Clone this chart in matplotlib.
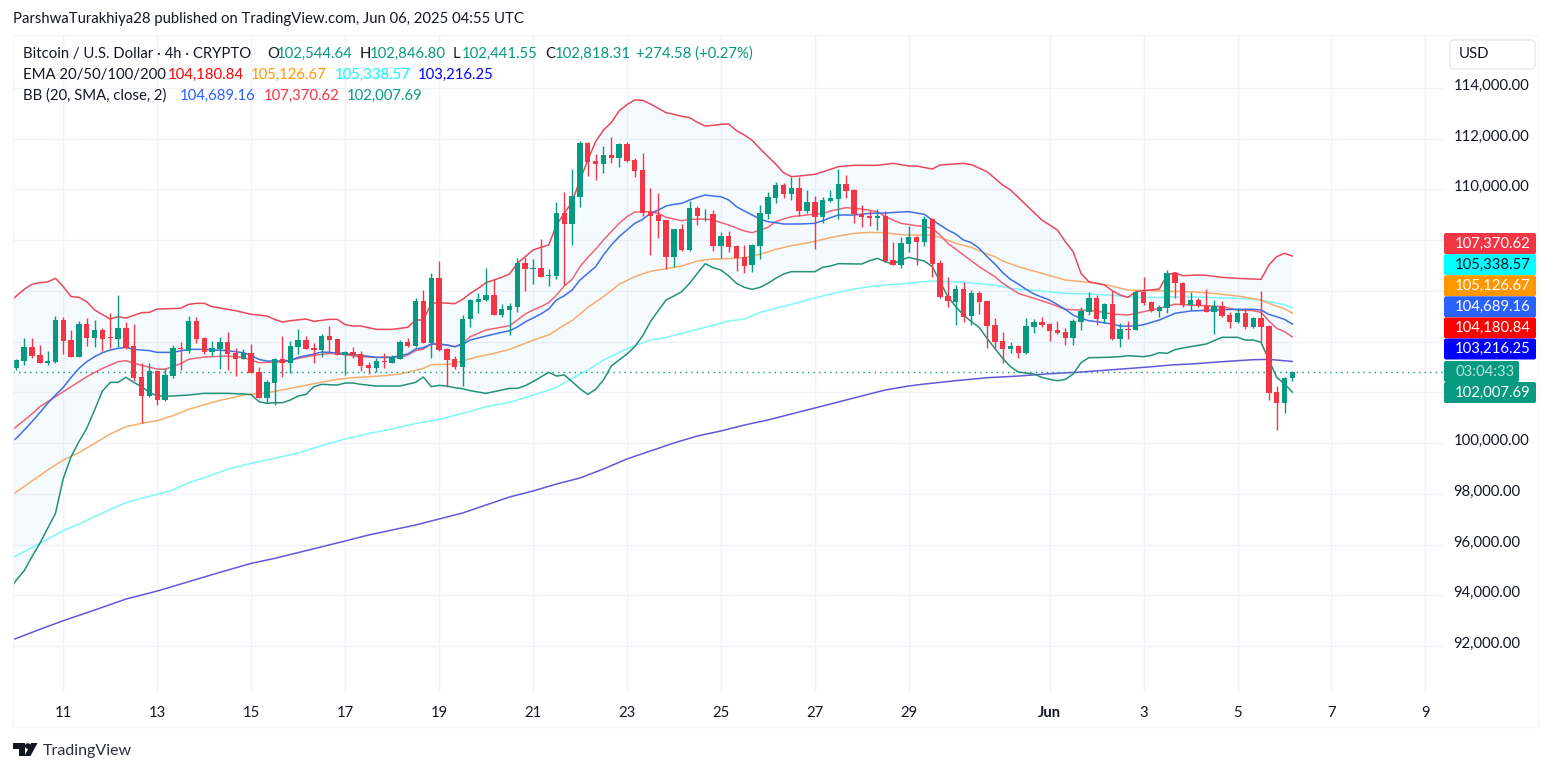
import numpy as np
import matplotlib
matplotlib.use("Agg")
import matplotlib.pyplot as plt
from matplotlib.patches import FancyBboxPatch, Polygon, Circle, Rectangle

plt.rcParams["font.family"] = ["Lato", "DejaVu Sans"]

GREEN = "#089981"
RED = "#F23645"
TEXT = "#131722"
GRID = "#f0f3fa"
FS = 10.7

# 4h candles, first one is May 10 00:00 (candle 7 = May 11 00:00)
opens = [102957, 103246, 103771, 103469, 103154, 103193, 104849, 104060, 103403, 104691,
         104152, 104455, 104179, 104113, 104533, 103824, 102602, 101853, 102825, 101695,
         102641, 103745, 103640, 104809, 104126, 103600, 103706, 103982, 103561, 103325,
         103548, 102799, 101787, 102378, 103311, 103167, 103797, 104060, 103745, 103679,
         104218, 104086, 103469, 103587, 103495, 103075, 102957, 103245, 103167, 103324,
         103981, 103824, 105598, 103955, 106504, 103705, 103311, 103009, 104875, 105558,
         105637, 105834, 105046, 105243, 105374, 107081, 106871, 106897, 106595, 106582,
         109052, 108632, 109709, 111811, 111115, 111010, 111352, 111246, 111785, 111154,
         110760, 109118, 108986, 108776, 107344, 108421, 107607, 109262, 109013, 109026,
         107764, 108158, 107764, 107331, 107015, 107765, 109026, 109670, 110182, 109815,
         110051, 109144, 109499, 108921, 109539, 109631, 110209, 109972, 109013, 108960,
         108882, 108960, 107200, 107029, 107857, 108133, 107922, 108842, 107095, 105794,
         105571, 106070, 105006, 105899, 105597, 104638, 104007, 103705, 103836, 103547,
         104572, 104769, 104690, 104441, 104362, 104138, 104782, 105163, 105715, 104874,
         105479, 104099, 104506, 104467, 105952, 105558, 105190, 105321, 106688, 106307,
         105440, 105637, 105414, 105177, 105401, 105046, 104770, 105112, 104573, 104915,
         104612, 101997, 101590, 102544.64]
closes = [103272, 103771, 103430, 103167, 103220, 104849, 104034, 103403, 104691, 104152,
          104455, 104113, 104152, 104533, 103745, 102562, 101866, 102838, 101695, 102681,
          103745, 103706, 104809, 104100, 103600, 103732, 103982, 103508, 103325, 103561,
          102773, 101787, 102405, 103311, 103167, 103824, 104060, 103718, 103679, 104218,
          104060, 103482, 103587, 103456, 103035, 102957, 103232, 103193, 103377, 103981,
          103824, 105598, 103955, 106504, 103666, 103272, 103009, 104875, 105637, 105663,
          105834, 105059, 105269, 105400, 107109, 106871, 106897, 106555, 106621, 109052,
          108632, 109735, 111811, 111089, 111010, 111352, 111246, 111785, 111115, 110734,
          109052, 108960, 108763, 107344, 108421, 107607, 109262, 108947, 109039, 107764,
          108158, 107738, 107278, 106976, 107804, 109052, 109696, 110169, 109815, 110051,
          109144, 109499, 108921, 109578, 109644, 110209, 109946, 109013, 108921, 108882,
          108960, 107173, 107029, 107883, 108106, 107922, 108829, 107055, 105754, 105597,
          106070, 104979, 105899, 105558, 104611, 103981, 103705, 103810, 103534, 104611,
          104769, 104638, 104427, 104322, 104138, 104795, 105216, 105715, 104874, 105479,
          104099, 104493, 104467, 105952, 105505, 105203, 105361, 106688, 106294, 105440,
          105637, 105401, 105177, 105401, 105006, 104770, 105112, 104560, 104915, 104586,
          101984, 101590, 102562, 102818.31]
highs = [103325, 104126, 104126, 103863, 103627, 105006, 104954, 104455, 104796, 104928,
         104849, 104533, 105112, 105834, 104770, 104691, 103140, 103140, 102878, 102943,
         103863, 103968, 105006, 104980, 104166, 104021, 104166, 104376, 103732, 103692,
         103890, 102983, 102484, 103337, 104218, 104008, 104494, 104218, 103929, 104297,
         104612, 104113, 103613, 103771, 103613, 103206, 103351, 103534, 103456, 104060,
         104139, 105716, 106031, 106688, 107174, 103732, 103429, 105033, 105663, 105900,
         106885, 106452, 105479, 105505, 107279, 107344, 107239, 108040, 106845, 109486,
         109893, 110787, 111917, 111851, 111391, 111706, 112048, 111811, 111851, 111220,
         111417, 110037, 109840, 108789, 108448, 108632, 109525, 109341, 109236, 109184,
         108316, 108342, 107790, 107804, 107830, 109381, 109893, 110274, 110261, 110472,
         110498, 109972, 109736, 109683, 109972, 110800, 110564, 109998, 109381, 109184,
         109210, 109131, 107909, 108106, 108553, 108159, 108960, 108868, 107213, 106556,
         106241, 106345, 106031, 106004, 105597, 104914, 104375, 103981, 103863, 104914,
         104874, 104953, 104743, 104809, 104519, 104874, 105347, 105939, 105820, 105531,
         106004, 104743, 104795, 106004, 106556, 105597, 105440, 106819, 106753, 106334,
         105939, 105703, 106071, 105637, 105598, 105177, 105309, 105309, 104980, 105992,
         104639, 102247, 102589, 102846.80]
lows = [102878, 103088, 103338, 103140, 103088, 103140, 103508, 103377, 103377, 103824,
        103798, 103640, 103745, 103771, 103692, 102431, 100802, 101827, 101485, 101669,
        102562, 102878, 103561, 103955, 103508, 103430, 102917, 102878, 102654, 103298,
        102746, 101761, 101564, 101485, 102615, 102772, 103508, 103692, 103167, 103403,
        103600, 103456, 102694, 103351, 102851, 102720, 102812, 102970, 103140, 103298,
        103797, 103797, 103929, 103351, 103640, 102221, 102904, 102247, 104586, 105138,
        105611, 105033, 104954, 104257, 105177, 106004, 106266, 106529, 106187, 106450,
        106227, 107817, 109315, 110537, 110366, 110655, 111023, 110865, 111089, 110497,
        108947, 107423, 108093, 106871, 106950, 107580, 107580, 108592, 108763, 107580,
        107278, 107541, 106792, 106713, 106752, 107265, 108816, 109473, 109670, 109578,
        108947, 109052, 107633, 108658, 109512, 108816, 109670, 108684, 108527, 108553,
        108395, 107147, 107003, 106897, 107528, 107029, 107765, 106556, 105728, 105373,
        104651, 104782, 104651, 105085, 103744, 103692, 103166, 103560, 103350, 103521,
        104349, 104559, 104033, 104296, 103876, 103876, 104454, 105032, 104664, 104717,
        104060, 103770, 104086, 104441, 105452, 105177, 104979, 105137, 105703, 105374,
        105243, 105374, 105151, 104297, 104954, 104547, 104744, 104507, 104547, 103995,
        101695, 100513, 101170, 102441.55]

# indicators, read at the candle numbers in the *_idx lists
upper_idx = [0, 1, 2, 3, 4, 5, 6, 7, 8, 9, 10, 11, 13, 14, 15, 17, 18, 19, 22, 23, 24, 25, 26, 29, 31, 32,
             33, 34, 35, 36, 38, 39, 41, 42, 43, 44, 45, 47, 49, 51, 52, 53, 54, 55, 57, 58, 59, 60, 61, 62,
             63, 64, 65, 66, 67, 68, 69, 70, 71, 72, 73, 74, 75, 76, 77, 78, 79, 80, 81, 82, 83, 84, 85, 86,
             87, 88, 89, 90, 91, 92, 93, 94, 95, 96, 97, 98, 99, 100, 101, 103, 105, 106, 108, 111, 113, 115,
             116, 118, 119, 122, 123, 125, 126, 127, 128, 130, 132, 134, 135, 136, 137, 138, 140, 141, 142,
             143, 144, 145, 147, 148, 149, 150, 152, 153, 155, 157, 160, 161, 162, 163, 164]
upper_val = [105500, 105795, 106058, 106255, 106320, 106347, 106491, 106163, 105769, 105742, 105572, 105243,
             104888, 104980, 104928, 105138, 105151, 105282, 105309, 105466, 105506, 105506, 105374, 105217,
             105072, 105046, 105006, 104875, 104770, 104822, 104888, 104796, 104875, 104875, 104665, 104612,
             104612, 104481, 104481, 104560, 104849, 104849, 105506, 105532, 105492, 105663, 105900, 106097,
             106320, 106425, 106531, 106662, 107081, 107344, 107607, 107712, 107804, 108592, 109052, 109512,
             110366, 111154, 111877, 112337, 112626, 113086, 113336, 113520, 113507, 113362, 113191, 113020,
             112955, 112876, 112823, 112639, 112495, 112521, 112561, 112574, 112311, 112140, 111930, 111600,
             111300, 110997, 110655, 110498, 110524, 110590, 110787, 110892, 110945, 110945, 111023, 110918,
             110918, 110800, 110958, 111023, 110971, 110695, 110432, 110169, 109973, 109381, 108790, 108396,
             107936, 107542, 106688, 106359, 106228, 106004, 105833, 105741, 105965, 106004, 106070, 106622,
             106714, 106596, 106623, 106610, 106531, 106491, 106452, 107016, 107345, 107476, 107370.62]

basis_idx = [0, 1, 2, 3, 4, 5, 6, 7, 8, 9, 10, 11, 12, 13, 14, 15, 16, 18, 19, 21, 23, 25, 28, 30, 31, 32, 33,
             34, 36, 37, 39, 40, 41, 43, 45, 47, 49, 51, 52, 53, 54, 55, 56, 57, 58, 59, 61, 63, 64, 65, 66, 67,
             68, 69, 70, 71, 72, 73, 74, 75, 76, 77, 78, 79, 80, 81, 82, 83, 84, 85, 86, 87, 88, 89, 90, 91, 92,
             93, 94, 95, 96, 97, 98, 99, 101, 103, 104, 105, 106, 108, 110, 112, 114, 115, 117, 118, 119, 120,
             121, 122, 123, 124, 125, 126, 127, 128, 129, 130, 131, 133, 135, 136, 137, 138, 139, 141, 142, 144,
             145, 147, 148, 149, 151, 153, 155, 157, 159, 160, 161, 162, 163, 164]
basis_val = [100000, 100184, 100513, 100841, 101196, 101564, 101892, 102195, 102589, 102944, 103206, 103403,
             103561, 103666, 103732, 103771, 103692, 103640, 103574, 103574, 103692, 103692, 103640, 103561,
             103450, 103298, 103232, 103232, 103245, 103377, 103508, 103587, 103574, 103521, 103456, 103377,
             103377, 103508, 103705, 103758, 103903, 103903, 103863, 103797, 103889, 104060, 104218, 104362,
             104428, 104573, 104771, 104928, 105086, 105283, 105636, 105806, 106030, 106424, 106687, 106950,
             107410, 107804, 108132, 108395, 108658, 108815, 109052, 109183, 109341, 109407, 109446, 109578,
             109683, 109775, 109735, 109709, 109578, 109315, 109144, 108987, 108829, 108724, 108684, 108632,
             108632, 108658, 108763, 108882, 108987, 108987, 109052, 109065, 109105, 109118, 109013, 108790,
             108592, 108395, 108238, 108001, 107896, 107673, 107345, 107056, 106714, 106451, 106267, 106057,
             105873, 105636, 105268, 105045, 104914, 104822, 104782, 104690, 104611, 104611, 104664, 104848,
             104979, 105112, 105204, 105230, 105256, 105269, 105269, 105243, 105072, 104980, 104875, 104689.16]

lower_idx = [0, 1, 2, 3, 4, 5, 6, 7, 8, 9, 10, 11, 12, 13, 14, 15, 16, 17, 18, 19, 21, 23, 25, 28, 30, 31, 32, 33,
             34, 35, 36, 37, 38, 39, 40, 42, 43, 44, 45, 47, 50, 52, 53, 54, 55, 56, 57, 58, 59, 61, 63, 64, 65,
             66, 67, 68, 69, 70, 71, 72, 73, 74, 75, 76, 77, 78, 79, 80, 81, 82, 83, 84, 85, 86, 87, 88, 89, 90,
             91, 92, 93, 94, 95, 96, 97, 98, 99, 100, 103, 104, 105, 106, 109, 110, 111, 112, 113, 114, 115, 116,
             117, 118, 119, 120, 121, 122, 123, 124, 125, 126, 127, 128, 129, 130, 131, 132, 133, 134, 135, 136,
             137, 138, 140, 142, 143, 145, 146, 147, 148, 149, 150, 151, 153, 154, 155, 157, 158, 159, 160, 161,
             162, 163, 164]
lower_val = [94142, 94601, 94969, 95521, 96047, 96638, 97229, 98609, 99463, 100054, 100580, 101303, 102050,
             102392, 102392, 102589, 102392, 102221, 101997, 101853, 101853, 101892, 101958, 101958, 101932,
             101905, 101630, 101564, 101590, 101590, 101695, 101853, 101918, 102221, 102313, 102286, 102365,
             102365, 102313, 102247, 102247, 102391, 102602, 102221, 102273, 102247, 102181, 102142, 102063,
             101958, 102089, 102155, 102155, 102260, 102418, 102602, 102786, 102641, 102681, 102418, 102142,
             101918, 102115, 102483, 103035, 103272, 103508, 103797, 104218, 104783, 105217, 105637, 105795,
             105965, 106294, 106688, 107069, 106912, 106820, 106583, 106293, 106135, 106056, 106135, 106293,
             106490, 106661, 106753, 106753, 106924, 106976, 107068, 107055, 107186, 107278, 107147, 107055,
             107213, 107318, 107239, 107173, 106950, 106359, 105767, 105373, 105045, 104782, 104559, 104125,
             103731, 103337, 103008, 102798, 102759, 102719, 102588, 102509, 102456, 102509, 102719, 103166,
             103363, 103376, 103403, 103442, 103403, 103455, 103560, 103534, 103680, 103745, 103798, 103903,
             104034, 104166, 104166, 104060, 104060, 103968, 103272, 102589, 102326, 102007.69]

ema20_idx = [0, 1, 3, 4, 5, 7, 8, 10, 12, 14, 15, 17, 19, 20, 22, 23, 25, 28, 30, 31, 32, 33, 35, 37, 39, 41, 43,
             45, 47, 50, 51, 52, 53, 54, 56, 57, 58, 59, 61, 64, 65, 66, 67, 68, 69, 70, 71, 72, 73, 74, 75, 76,
             77, 78, 79, 80, 82, 83, 84, 86, 87, 89, 90, 92, 94, 95, 96, 97, 98, 99, 100, 102, 104, 105, 106, 107,
             109, 111, 112, 114, 116, 117, 118, 119, 120, 122, 124, 125, 126, 127, 128, 129, 131, 133, 135, 137,
             139, 141, 143, 145, 147, 148, 149, 151, 153, 155, 157, 159, 160, 161, 162, 163, 164]
ema20_val = [100383, 100646, 101145, 101432, 101630, 102024, 102221, 102615, 102943, 103206, 103246, 103062,
             102917, 102904, 103127, 103298, 103390, 103430, 103377, 103272, 103167, 103180, 103193, 103337,
             103456, 103535, 103482, 103403, 103377, 103377, 103469, 103640, 103705, 103903, 103863, 103797,
             103929, 104192, 104454, 104625, 104849, 105085, 105243, 105374, 105532, 105834, 106189, 106452,
             106951, 107319, 107640, 108001, 108329, 108658, 108921, 109105, 109118, 109052, 108894, 108763,
             108815, 108829, 108789, 108592, 108356, 108290, 108395, 108500, 108724, 108829, 108921, 108987,
             109052, 109144, 109210, 109276, 109223, 109118, 108921, 108658, 108566, 108527, 108461, 108198,
             107870, 107410, 106950, 106753, 106556, 106294, 106096, 105899, 105702, 105505, 105268, 105242,
             105203, 105084, 105045, 105177, 105308, 105400, 105470, 105440, 105414, 105374, 105243, 105217,
             105151, 104809, 104520, 104389, 104180.84]

ema50_idx = [0, 1, 3, 5, 7, 9, 11, 13, 15, 17, 19, 21, 23, 25, 27, 28, 30, 31, 32, 34, 36, 38, 40, 42, 44, 46, 48,
             50, 52, 53, 54, 56, 57, 58, 60, 62, 64, 66, 68, 69, 71, 72, 74, 76, 78, 80, 82, 84, 86, 88, 90, 92,
             94, 96, 98, 100, 102, 104, 106, 108, 110, 112, 114, 116, 118, 119, 121, 123, 125, 126, 127, 129,
             132, 135, 138, 140, 143, 146, 148, 149, 151, 153, 155, 157, 160, 161, 163, 164]
ema50_val = [97860, 98070, 98504, 98938, 99332, 99621, 99989, 100357, 100646, 100777, 100882, 101079, 101329,
             101513, 101684, 101748, 101892, 101932, 101932, 102037, 102155, 102273, 102404, 102510, 102575,
             102615, 102654, 102720, 102864, 102943, 103088, 103101, 103140, 103246, 103403, 103535, 103692,
             103929, 104165, 104257, 104651, 104822, 105348, 105768, 106255, 106557, 106767, 106872, 106977,
             107174, 107253, 107266, 107305, 107436, 107633, 107778, 107883, 108027, 108159, 108264, 108303,
             108290, 108211, 108198, 108198, 108106, 107870, 107712, 107449, 107344, 107174, 106950, 106688,
             106425, 106333, 106254, 106031, 106004, 105991, 105975, 105966, 105926, 105861, 105795, 105637,
             105506, 105282, 105126.67]

ema100_idx = [0, 1, 4, 7, 9, 11, 13, 15, 17, 19, 21, 23, 25, 28, 31, 34, 37, 40, 43, 46, 49, 52, 55, 58, 61, 64,
              66, 68, 70, 72, 74, 76, 78, 80, 82, 84, 86, 88, 90, 92, 94, 96, 98, 100, 102, 104, 106, 108, 110,
              112, 114, 116, 118, 120, 122, 124, 126, 128, 130, 132, 135, 138, 141, 144, 147, 149, 152, 155,
              158, 160, 161, 163, 164]
ema100_val = [95390, 95561, 96047, 96546, 96809, 97098, 97387, 97650, 97821, 97978, 98149, 98438, 98635, 98964,
              99200, 99397, 99608, 99900, 100160, 100375, 100554, 100770, 100933, 101169, 101432, 101603, 101787,
              101984, 102194, 102549, 102878, 103272, 103574, 103837, 104060, 104165, 104323, 104481, 104638,
              104809, 104887, 105150, 105307, 105465, 105636, 105794, 105938, 106070, 106162, 106227, 106267,
              106332, 106385, 106365, 106333, 106280, 106228, 106096, 106044, 105991, 105899, 105873, 105820,
              105741, 105741, 105760, 105755, 105716, 105690, 105637, 105572, 105453, 105338.57]

ema200_idx = [0, 1, 4, 7, 11, 15, 19, 23, 27, 31, 34, 43, 46, 49, 52, 55, 58, 61, 64, 67, 70, 73, 76, 79, 82, 85,
              88, 91, 94, 97, 100, 103, 106, 109, 112, 115, 117, 121, 125, 129, 133, 137, 141, 145, 149, 151, 155,
              159, 161, 164]
ema200_val = [92184, 92302, 92657, 92998, 93419, 93852, 94168, 94536, 94904, 95258, 95455, 96140, 96376, 96573,
              96770, 97007, 97243, 97558, 97874, 98110, 98386, 98623, 98977, 99372, 99687, 100002, 100278, 100475,
              100710, 100909, 101145, 101381, 101618, 101855, 102091, 102248, 102325, 102457, 102575, 102640,
              102733, 102798, 102890, 102982, 103087, 103114, 103206, 103285, 103298, 103216.25]

last_price = 102818.31

price_ticks = list(range(92000, 116000, 2000))
hidden_ticks = [102000, 104000, 106000, 108000]  # covered by the value tags
day_ticks = [0, 2, 4, 6, 8, 10, 12, 14, 16, 18, 21, 23, 25, 27, 29]
day_labels = ["11", "13", "15", "17", "19", "21", "23", "25", "27", "29", "Jun", "3", "5", "7", "9"]

header = "ParshwaTurakhiya28 published on TradingView.com, Jun 06, 2025 04:55 UTC"
legend_rows = [
    (54, [(23, "Bitcoin / U.S. Dollar · 4h · CRYPTO", TEXT), (267, "O", TEXT), (277, "102,544.64", GREEN),
          (360, "H", TEXT), (370, "102,846.80", GREEN), (453, "L", TEXT), (462, "102,441.55", GREEN),
          (545, "C", TEXT), (555, "102,818.31", GREEN), (636, "+274.58 (+0.27%)", GREEN)]),
    (75, [(23, "EMA 20/50/100/200", TEXT), (168, "104,180.84", "#FF0000"), (251, "105,126.67", "#FF9800"),
          (335, "105,338.57", "#00FFFF"), (418, "103,216.25", "#0000FF")]),
    (96, [(23, "BB (20, SMA, close, 2)", TEXT), (180, "104,689.16", "#2962FF"), (264, "107,370.62", RED),
          (347, "102,007.69", GREEN)]),
]
tags = [("107,370.62", RED, "white"), ("105,338.57", "#00FFFF", TEXT), ("105,126.67", "#FF9800", "white"),
        ("104,689.16", "#2962FF", "white"), ("104,180.84", "#FF0000", "white"), ("103,216.25", "#0000FF", "white")]


def candle_day(idx):
    return (np.asarray(idx, dtype=float) - 7) / 6


W, H = 1553, 772
fig = plt.figure(figsize=(W / 100, H / 100), dpi=100, facecolor="white")

ax = fig.add_axes([13 / W, 1 - 692 / H, (1444 - 13) / W, (692 - 36) / H])
ax.set_xlim((13 - 63.3) / 46.97, (1444 - 63.3) / 46.97)
ax.set_ylim(102000 + (392.3 - 692) / 0.025375, 102000 + (392.3 - 36) / 0.025375)
for s in ax.spines.values():
    s.set_visible(False)
ax.set_axisbelow(True)
ax.grid(True, color=GRID, lw=1)
ax.yaxis.tick_right()
ax.set_yticks(price_ticks)
ax.set_yticklabels(["" if p in hidden_ticks else f"{p:,.2f}" for p in price_ticks],
                   fontsize=FS, color=TEXT, va="center")
ax.set_xticks(day_ticks)
ax.set_xticklabels(day_labels, fontsize=FS, color=TEXT)
ax.get_xticklabels()[10].set_fontweight("bold")
ax.tick_params(axis="y", length=0, pad=7)
ax.tick_params(axis="x", length=0, pad=10)
for lab in ax.get_yticklabels():
    lab.set_transform(lab.get_transform() + matplotlib.transforms.ScaledTranslation(0, 2 / 100, fig.dpi_scale_trans))

# bollinger band background
ax.fill(np.r_[candle_day(upper_idx), candle_day(lower_idx)[::-1]], np.r_[upper_val, lower_val[::-1]],
        color="#2196F3", alpha=0.045, lw=0, zorder=1)

ax.plot(candle_day(ema200_idx), ema200_val, color="#6258d8", lw=1.1, zorder=2)
ax.plot(candle_day(ema100_idx), ema100_val, color="#7ff7f7", lw=1.1, zorder=2)
ax.plot(candle_day(ema50_idx), ema50_val, color="#f4ae6c", lw=1.1, zorder=2)
ax.plot(candle_day(ema20_idx), ema20_val, color="#ee6474", lw=1.1, zorder=2)
ax.plot(candle_day(upper_idx), upper_val, color="#e8495a", lw=1.1, zorder=2)
ax.plot(candle_day(basis_idx), basis_val, color="#3f6fe6", lw=1.1, zorder=2)
ax.plot(candle_day(lower_idx), lower_val, color="#23917a", lw=1.1, zorder=2)

ax.axhline(last_price, color=GREEN, lw=1, ls=(0, (1, 3)), zorder=2)

# candles
days = candle_day(range(1, len(opens) + 1))
o, c, hi, lo = map(np.array, (opens, closes, highs, lows))
cols = np.where(c >= o, GREEN, RED)
ax.vlines(days, lo, hi, colors=cols, lw=1, zorder=3)
ax.bar(days, np.maximum(np.abs(c - o), 30), bottom=np.minimum(o, c), width=0.115, color=cols, lw=0, zorder=4)

# overlay in pixel coordinates for header, legend, tags and logo
fg = fig.add_axes([0, 0, 1, 1], facecolor="none")
fg.set_xlim(0, W)
fg.set_ylim(H, 0)
fg.axis("off")

fg.add_patch(Rectangle((13, 35), 1525, 692, fill=False, ec="#f5f6f9", lw=1))
fg.text(13, 19.5, header, fontsize=FS, color=TEXT, va="center")
for y, parts in legend_rows:
    for x, txt, col in parts:
        fg.text(x, y, txt, fontsize=FS, color=col, va="center")

fg.add_patch(FancyBboxPatch((1450, 40), 85, 29, boxstyle="round,pad=0,rounding_size=4", fc="white", ec="#e6e8ee", lw=1))
fg.text(1459, 54, "USD", fontsize=FS, color=TEXT, va="center")


def tag(top, height, right, txt, bg, fg_col):
    fg.add_patch(FancyBboxPatch((1444, top), right - 1444, height, boxstyle="round,pad=0,rounding_size=2",
                                fc=bg, ec="none", zorder=5))
    fg.text(1455, top + height / 2, txt, fontsize=FS, color=fg_col, va="center", zorder=6)


for n, (txt, bg, col) in enumerate(tags):
    tag(233 + n * 21.1, 21, 1536, txt, bg, col)
tag(361, 21, 1519, "03:04:33", GREEN, "#b9e4da")
tag(382, 21, 1536, "102,007.69", GREEN, "white")

# logo
fg.add_patch(Polygon([(13, 743), (24.5, 743), (24.5, 756), (18.5, 756), (18.5, 748.5), (13, 748.5)], fc=TEXT, ec="none"))
fg.add_patch(Circle((27.8, 746), 2.8, fc=TEXT, ec="none"))
fg.add_patch(Polygon([(31, 743), (37.5, 743), (30.5, 756), (24.5, 756)], fc=TEXT, ec="none"))
fg.text(43, 750.5, "TradingView", fontsize=11.5, color="#2a2e39", va="center")

fig.savefig("out.png", dpi=100)
